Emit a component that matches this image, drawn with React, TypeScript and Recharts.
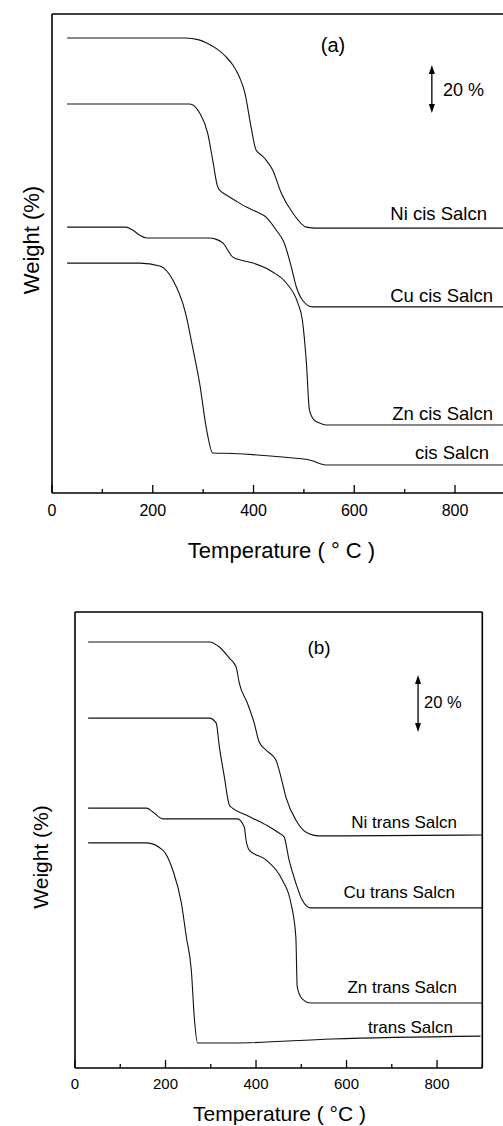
import React from 'react';
import { LineChart, Line, XAxis, YAxis, ReferenceLine } from 'recharts';

// temperatures (°C) and stacked weight readings (offset curves, arbitrary %)
const niCisT = [30, 265, 290, 307, 330, 346, 359, 372, 383, 395, 405, 415, 425, 438, 455, 478, 505, 524, 900];
const niCisW = [190, 190, 189.3, 187.9, 185, 182, 178.7, 173.7, 167, 153, 143.2, 141.2, 139, 134.9, 125.3, 116.9, 111, 110.6, 110.6];
const cuCisT = [30, 273, 293, 309, 319, 329, 338, 346, 366, 386, 405, 425, 445, 461, 475, 485, 497, 517, 900];
const cuCisW = [162.4, 162.4, 158.7, 150.3, 139, 127.8, 125.5, 124.4, 121.8, 119.4, 117.5, 115.2, 109.8, 104.4, 94.4, 86, 80.6, 77.7, 77.7];
const znCisT = [30, 146, 160, 175, 188, 313, 325, 339, 359, 380, 399, 438, 465, 488, 497, 505, 511, 520, 531, 544, 900];
const znCisW = [111, 111, 109.8, 107.5, 106.5, 106.5, 106, 104.4, 98.5, 97, 96, 92.3, 87.7, 79.3, 72.2, 54.3, 34.7, 30.5, 29.2, 28.4, 28.4];
const cisT = [30, 174, 214, 240, 265, 279, 293, 307, 319, 359, 457, 511, 544, 900];
const cisW = [96, 96, 94.8, 88.9, 75.2, 61, 45.9, 26.3, 16.7, 16.5, 15, 13.8, 11.7, 11.7];

const niTransT = [29, 297, 319, 341, 356, 363, 381, 396, 407, 422, 444, 455, 466, 488, 510, 539, 598, 900];
const niTransW = [177.5, 177.5, 175.4, 170.8, 167.1, 160.4, 152, 143.7, 135.8, 132.5, 128.3, 121.3, 112.9, 103.3, 98.3, 96.7, 96.7, 97.1];
const cuTransT = [29, 297, 312, 319, 330, 341, 348, 378, 422, 451, 462, 473, 488, 502, 521, 900];
const cuTransW = [145.8, 145.8, 143.7, 133.8, 121.3, 109.6, 108.3, 105.4, 101.3, 97.9, 96.3, 86.7, 77.1, 70, 66.7, 66.7];
const znTransT = [29, 158, 172, 194, 359, 374, 378, 385, 422, 458, 477, 488, 491, 502, 521, 900];
const znTransW = [108.3, 108.3, 106.7, 103.8, 103.8, 100.4, 95, 90.8, 86.7, 78.3, 68.8, 54.6, 33.8, 28.8, 27.1, 27.1];
const transT = [29, 158, 194, 216, 235, 246, 257, 264, 271, 348, 568, 896];
const transW = [93.8, 93.8, 90.8, 82.5, 68.8, 54.6, 40.8, 20, 10.4, 10.4, 12.1, 13.3];

const xTicks = [0, 100, 200, 300, 400, 500, 600, 700, 800, 900];

const toRows = (t: number[], w: number[]) => t.map((v, i) => ({ t: v, w: w[i] }));

const font = '"Liberation Sans", Arial, sans-serif';

const makeBottomTick = (fs: number, dy: number) => (props: any) => {
  const { x, y, payload } = props;
  const major = payload.value % 200 === 0;
  return (
    <g>
      <line x1={x} y1={y} x2={x} y2={y - (major ? 8 : 4)} stroke="#000" strokeWidth={1.3} />
      {major && payload.value < 900 && (
        <text x={x} y={y + dy} textAnchor="middle" fontSize={fs} fill="#000" fontFamily={font}>
          {payload.value}
        </text>
      )}
    </g>
  );
};

const TopTick = (props: any) => {
  const { x, y, payload } = props;
  const major = payload.value % 200 === 0;
  return <line x1={x} y1={y} x2={x} y2={y + (major ? 7 : 4)} stroke="#000" strokeWidth={1.3} />;
};

const ScaleArrow = (p: any) => {
  const { x1, y1, x2, y2 } = p;
  return (
    <g>
      <line x1={x1} y1={y1 + 6} x2={x2} y2={y2 - 6} stroke="#000" strokeWidth={1.3} />
      <polygon points={`${x1},${y1} ${x1 - 3},${y1 + 9} ${x1 + 3},${y1 + 9}`} fill="#000" />
      <polygon points={`${x2},${y2} ${x2 - 3},${y2 - 9} ${x2 + 3},${y2 - 9}`} fill="#000" />
    </g>
  );
};

const curve = (rows: { t: number; w: number }[], key: string) => (
  <Line
    key={key}
    data={rows}
    dataKey="w"
    type="monotone"
    dot={false}
    stroke="#111"
    strokeWidth={1.1}
    isAnimationActive={false}
  />
);

const axisLine = { stroke: '#000', strokeWidth: 1.6 };

const axes = (yMax: number, fs: number, dy: number) => [
  <XAxis
    key="xb"
    type="number"
    dataKey="t"
    domain={[0, 900]}
    ticks={xTicks}
    interval={0}
    height={1}
    tickSize={0}
    tickMargin={0}
    tickLine={false}
    tick={makeBottomTick(fs, dy)}
    axisLine={axisLine}
  />,
  <XAxis
    key="xt"
    xAxisId="top"
    orientation="top"
    type="number"
    domain={[0, 900]}
    ticks={xTicks}
    interval={0}
    height={1}
    tickSize={0}
    tickMargin={0}
    tickLine={false}
    tick={TopTick}
    axisLine={axisLine}
  />,
  <YAxis key="yl" type="number" domain={[0, yMax]} width={1} tick={false} tickLine={false} axisLine={axisLine} />,
  <YAxis
    key="yr"
    yAxisId="r"
    orientation="right"
    type="number"
    domain={[0, yMax]}
    width={1}
    tick={false}
    tickLine={false}
    axisLine={axisLine}
  />,
];

const PanelA = () => (
  <LineChart width={520} height={580} margin={{ top: 13, left: 51, right: 13.6, bottom: 86 }}>
    {axes(200, 16, 23)}
    {curve(toRows(niCisT, niCisW), 'ni')}
    {curve(toRows(cuCisT, cuCisW), 'cu')}
    {curve(toRows(znCisT, znCisW), 'zn')}
    {curve(toRows(cisT, cisW), 'cis')}
    <ReferenceLine segment={[{ x: 754, y: 178.7 }, { x: 754, y: 158.7 }]} shape={ScaleArrow} />
    <text x={333} y={52} textAnchor="middle" fontSize={20} fontFamily={font}>(a)</text>
    <text x={443} y={96} fontSize={18} fontFamily={font}>20 %</text>
    <text x={487} y={219.5} textAnchor="end" fontSize={18.5} fontFamily={font}>Ni cis Salcn</text>
    <text x={493} y={301.5} textAnchor="end" fontSize={18.5} fontFamily={font}>Cu cis Salcn</text>
    <text x={493} y={419.5} textAnchor="end" fontSize={18.5} fontFamily={font}>Zn cis Salcn</text>
    <text x={489} y={458.5} textAnchor="end" fontSize={18.5} fontFamily={font}>cis Salcn</text>
    <text x={281.5} y={558} textAnchor="middle" fontSize={22} fontFamily={font}>Temperature ( ° C )</text>
    <text x={39} y={240} textAnchor="middle" fontSize={22} fontFamily={font} transform="rotate(-90, 39, 240)">
      Weight (%)
    </text>
  </LineChart>
);

const PanelB = () => (
  <LineChart width={503} height={566} margin={{ top: 51, left: 74, right: 19.7, bottom: 57 }}>
    {axes(190, 15, 20.5)}
    {curve(toRows(niTransT, niTransW), 'ni')}
    {curve(toRows(cuTransT, cuTransW), 'cu')}
    {curve(toRows(znTransT, znTransW), 'zn')}
    {curve(toRows(transT, transW), 'trans')}
    <ReferenceLine segment={[{ x: 758, y: 163.75 }, { x: 758, y: 140 }]} shape={ScaleArrow} />
    <text x={319} y={94} textAnchor="middle" fontSize={19} fontFamily={font}>(b)</text>
    <text x={424} y={148} fontSize={16.5} fontFamily={font}>20 %</text>
    <text x={457} y={268} textAnchor="end" fontSize={17} fontFamily={font}>Ni trans Salcn</text>
    <text x={455} y={338} textAnchor="end" fontSize={17} fontFamily={font}>Cu trans Salcn</text>
    <text x={457} y={433} textAnchor="end" fontSize={17} fontFamily={font}>Zn trans Salcn</text>
    <text x={453} y={473} textAnchor="end" fontSize={17} fontFamily={font}>trans Salcn</text>
    <text x={279.5} y={561} textAnchor="middle" fontSize={21} fontFamily={font}>Temperature ( °C )</text>
    <text x={48} y={297} textAnchor="middle" fontSize={21} fontFamily={font} transform="rotate(-90, 48, 297)">
      Weight (%)
    </text>
  </LineChart>
);

export default function App() {
  return (
    <div
      style={{
        position: 'absolute',
        left: 0,
        top: 0,
        width: 503,
        height: 1126,
        overflow: 'hidden',
        background: '#fff',
        fontFamily: font,
      }}
    >
      <div style={{ position: 'absolute', left: 0, top: 0 }}>
        <PanelA />
      </div>
      <div style={{ position: 'absolute', left: 0, top: 560 }}>
        <PanelB />
      </div>
    </div>
  );
}
